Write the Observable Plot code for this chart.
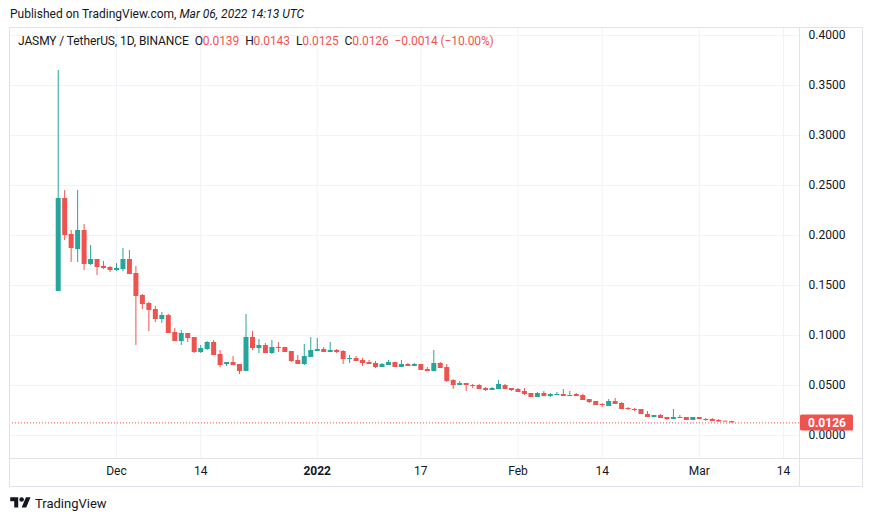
<!DOCTYPE html>
<html>
<head>
<meta charset="utf-8">
<script src="https://cdn.jsdelivr.net/npm/d3@7"></script>
<script src="https://cdn.jsdelivr.net/npm/@observablehq/plot@0.6"></script>
<style>
  body { margin: 0; background: #fff; }
  #wrap { position: relative; width: 873px; height: 521px; font-family: Roboto, "Liberation Sans", sans-serif; color: #131722; overflow: hidden; }
  #chart { position: absolute; left: 0; top: 0; }
  #pub { position: absolute; left: 10px; top: 7px; font-size: 12px; white-space: nowrap; color: #131722; }
  #legend { position: absolute; left: 18px; top: 34px; font-size: 12px; white-space: nowrap; color: #131722; letter-spacing: -0.1px; }
  #legend .v { color: #ef5350; }
  #legend .g { margin-left: 6px; }
  #logo { position: absolute; left: 10px; top: 495px; font-size: 13px; display: flex; align-items: center; gap: 4px; color: #131722; }
</style>
</head>
<body>
<div id="wrap">
  <div id="chart"></div>
  <div id="pub">Published on TradingView.com, <i>Mar 06, 2022 14:13 UTC</i></div>
  <div id="legend"></div>
  <div id="logo"><svg width="21" height="16" viewBox="0 0 36 28"><path d="M14 22H7V11H0V4h14v18zM28 22h-8l7.5-18h8L28 22z" fill="#131722"/><circle cx="20" cy="8" r="4" fill="#131722"/></svg><span>TradingView</span></div>
</div>
<script>
// ---- data (JASMY / TetherUS, 1D, BINANCE) ----
const firstDay = "2021-11-22";
const open  = [0.144,0.237,0.201,0.186,0.205,0.171,0.176,0.169,0.168,0.165,0.166,0.176,0.162,0.140,0.132,0.126,0.116,0.120,0.103,0.094,
               0.102,0.098,0.083,0.086,0.093,0.081,0.071,0.073,0.071,0.064,0.098,0.087,0.090,0.082,0.088,0.088,0.084,0.075,0.071,0.078,
               0.084,0.086,0.083,0.085,0.084,0.076,0.077,0.075,0.073,0.072,0.068,0.070,0.073,0.068,0.071,0.069,0.071,0.066,0.064,0.072,
               0.068,0.055,0.050,0.052,0.050,0.050,0.047,0.045,0.046,0.050,0.047,0.046,0.044,0.042,0.038,0.042,0.039,0.040,0.041,0.039,
               0.041,0.040,0.036,0.034,0.031,0.029,0.034,0.032,0.027,0.026,0.026,0.021,0.018,0.020,0.018,0.016,0.018,0.018,0.015,0.018,
               0.016,0.016,0.015,0.0143,0.0139];
const high  = [0.365,0.245,0.205,0.245,0.211,0.190,0.176,0.174,0.169,0.172,0.187,0.185,0.169,0.141,0.133,0.129,0.123,0.121,0.107,0.105,
               0.102,0.098,0.090,0.094,0.095,0.085,0.073,0.079,0.071,0.121,0.104,0.096,0.092,0.095,0.093,0.088,0.084,0.080,0.091,0.098,
               0.097,0.088,0.093,0.086,0.085,0.080,0.079,0.077,0.075,0.074,0.072,0.075,0.073,0.075,0.072,0.072,0.071,0.068,0.085,0.073,
               0.071,0.056,0.054,0.052,0.051,0.051,0.048,0.048,0.055,0.051,0.047,0.047,0.047,0.042,0.043,0.044,0.042,0.043,0.046,0.044,
               0.042,0.041,0.036,0.034,0.032,0.036,0.037,0.033,0.028,0.027,0.026,0.024,0.020,0.021,0.018,0.026,0.020,0.018,0.018,0.018,
               0.017,0.017,0.016,0.0145,0.0143];
const low   = [0.144,0.195,0.173,0.173,0.165,0.170,0.160,0.166,0.163,0.164,0.164,0.161,0.090,0.126,0.104,0.113,0.112,0.102,0.094,0.090,
               0.093,0.082,0.082,0.085,0.080,0.068,0.069,0.070,0.061,0.064,0.085,0.082,0.082,0.081,0.083,0.083,0.073,0.071,0.070,0.078,
               0.084,0.083,0.083,0.082,0.071,0.072,0.074,0.069,0.071,0.067,0.068,0.070,0.068,0.068,0.069,0.069,0.065,0.064,0.064,0.067,
               0.053,0.046,0.050,0.044,0.047,0.046,0.044,0.045,0.046,0.046,0.044,0.043,0.040,0.038,0.038,0.039,0.038,0.040,0.039,0.039,
               0.039,0.035,0.032,0.030,0.028,0.029,0.031,0.026,0.025,0.024,0.021,0.018,0.018,0.017,0.015,0.016,0.017,0.015,0.015,0.016,
               0.014,0.014,0.013,0.0135,0.0125];
const close = [0.237,0.200,0.187,0.205,0.171,0.176,0.168,0.167,0.165,0.167,0.176,0.161,0.139,0.131,0.125,0.116,0.120,0.102,0.094,0.102,
               0.097,0.083,0.087,0.093,0.080,0.070,0.073,0.070,0.064,0.098,0.087,0.090,0.082,0.088,0.087,0.083,0.074,0.071,0.079,0.085,
               0.086,0.083,0.085,0.083,0.076,0.077,0.074,0.072,0.071,0.068,0.071,0.073,0.068,0.071,0.069,0.071,0.065,0.064,0.072,0.067,
               0.054,0.050,0.052,0.050,0.049,0.046,0.045,0.047,0.051,0.046,0.045,0.043,0.041,0.038,0.042,0.039,0.041,0.041,0.039,0.040,
               0.039,0.035,0.033,0.030,0.030,0.034,0.031,0.026,0.026,0.025,0.021,0.018,0.020,0.017,0.016,0.018,0.017,0.015,0.018,0.016,
               0.015,0.014,0.0135,0.0139,0.0126];

const timeTicks  = ["2021-12-01","2021-12-14","2022-01-01","2022-01-17","2022-02-01","2022-02-14","2022-03-01","2022-03-14"];
const timeLabels = ["Dec","14","2022","17","Feb","14","Mar","14"];
const boldLabels = ["2022"];
const priceTicks = [0, 0.05, 0.10, 0.15, 0.20, 0.25, 0.30, 0.35, 0.40];
const viewRange  = ["2021-11-14T11:30Z", "2022-03-16T11:20Z"];
const priceRange = [-0.023, 0.408];
const legendInfo = {symbol: "JASMY / TetherUS, 1D, BINANCE", change: "\u22120.0014 (\u221210.00%)"};

// ---- build ----
const UP = "#26a69a", DOWN = "#ef5350", BORDER = "#e0e3eb", GRID = "#f0f3fa", TEXT = "#131722";
const start = new Date(firstDay + "T00:00Z");
const days = d3.utcDay.range(start, d3.utcDay.offset(start, open.length));
const candles = days.map((date, i) => ({
  date, open: open[i], high: high[i], low: low[i], close: close[i],
  up: close[i] >= open[i]
}));
const last = candles[candles.length - 1];
const tickDates = timeTicks.map(d => new Date(d + "T00:00Z"));
const labelOf = new Map(tickDates.map((d, i) => [+d, timeLabels[i]]));
const normalTicks = tickDates.filter(d => !boldLabels.includes(labelOf.get(+d)));
const boldTicks = tickDates.filter(d => boldLabels.includes(labelOf.get(+d)));

const fmt = d3.format(".4f");
document.getElementById("legend").innerHTML =
  `${legendInfo.symbol}` +
  `<span class="g">O<span class="v">${fmt(last.open)}</span></span>` +
  `<span class="g">H<span class="v">${fmt(last.high)}</span></span>` +
  `<span class="g">L<span class="v">${fmt(last.low)}</span></span>` +
  `<span class="g">C<span class="v">${fmt(last.close)}</span></span>` +
  `<span class="g v">${legendInfo.change}</span>`;

const chrome = (index, scales, values, dims) => {
  const {width, height, marginLeft, marginRight, marginTop, marginBottom} = dims;
  const right = width - marginRight, bottom = height - marginBottom;
  const outerR = width - 11, outerB = height - 35;
  const g = d3.create("svg:g").attr("fill", "none").attr("stroke", BORDER);
  g.append("rect").attr("x", marginLeft + 0.5).attr("y", marginTop + 0.5)
    .attr("width", outerR - marginLeft).attr("height", outerB - marginTop);
  g.append("line").attr("x1", right + 0.5).attr("x2", right + 0.5).attr("y1", marginTop).attr("y2", outerB);
  g.append("line").attr("x1", marginLeft).attr("x2", outerR).attr("y1", bottom + 0.5).attr("y2", bottom + 0.5);
  // last price tag
  const y = scales.y(last.close);
  const tag = g.append("g").attr("stroke", "none");
  tag.append("rect").attr("x", right + 1).attr("y", y - 8).attr("width", 53).attr("height", 16)
    .attr("rx", 1.5).attr("fill", last.up ? UP : DOWN);
  tag.append("text").attr("x", right + 9).attr("y", y).attr("dy", "0.35em")
    .attr("text-anchor", "start")
    .attr("fill", "#fff").attr("font-weight", "bold").attr("font-size", 12).text(fmt(last.close));
  return g.node();
};

const chart = Plot.plot({
  width: 873,
  height: 521,
  marginLeft: 9,
  marginRight: 74,
  marginTop: 27,
  marginBottom: 63,
  style: {fontFamily: "Roboto, 'Liberation Sans', sans-serif", fontSize: "12px", color: TEXT, background: "transparent"},
  x: {type: "utc", domain: viewRange.map(d => new Date(d))},
  y: {domain: priceRange},
  marks: [
    Plot.ruleY(priceTicks, {stroke: GRID}),
    Plot.ruleX(tickDates, {stroke: GRID}),
    Plot.ruleY([last.close], {stroke: DOWN, strokeDasharray: "1,2"}),
    Plot.ruleX(candles, {x: "date", y1: "low", y2: "high", stroke: d => d.up ? UP : DOWN, strokeWidth: 1}),
    Plot.ruleX(candles, {x: "date", y1: "open", y2: d => Math.abs(d.close - d.open) < 0.0008 ? d.open + (d.up ? 0.0008 : -0.0008) : d.close,
      stroke: d => d.up ? UP : DOWN, strokeWidth: 5}),
    Plot.axisY(priceTicks, {anchor: "right", tickSize: 0, tickPadding: 9, tickFormat: fmt, label: null, fill: TEXT, fontSize: 12}),
    Plot.axisX(normalTicks, {anchor: "bottom", tickSize: 0, tickPadding: 8, tickFormat: d => labelOf.get(+d), label: null, fill: TEXT, fontSize: 12}),
    Plot.axisX(boldTicks, {anchor: "bottom", tickSize: 0, tickPadding: 8, tickFormat: d => labelOf.get(+d), label: null, fill: TEXT, fontSize: 12, fontWeight: "bold"}),
    chrome
  ]
});
document.getElementById("chart").appendChild(chart);
</script>
</body>
</html>
